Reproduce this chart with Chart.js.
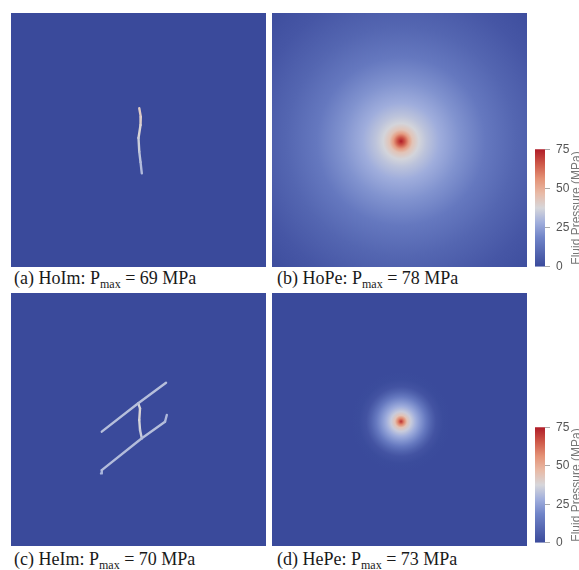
<!DOCTYPE html>
<html>
<head>
<meta charset="utf-8">
<script src="https://cdn.jsdelivr.net/npm/chart.js@4.4.1/dist/chart.umd.min.js"></script>
<style>
  body { margin: 0; width: 579px; height: 570px; background: #fff; overflow: hidden; position: relative; }
  canvas { position: absolute; }
  .cap { position: absolute; font-family: "Liberation Serif", "Times New Roman", serif; font-size: 18px; line-height: 18px; color: #1a1a1a; white-space: nowrap; }
  .cap sub { font-size: 12px; vertical-align: -4px; line-height: 0; }
</style>
</head>
<body>
<canvas id="panelA" width="255" height="254" style="left:11px;top:13px"></canvas>
<canvas id="panelB" width="255" height="254" style="left:272px;top:13px"></canvas>
<canvas id="panelC" width="255" height="253" style="left:11px;top:293px"></canvas>
<canvas id="panelD" width="255" height="253" style="left:272px;top:293px"></canvas>
<canvas id="barTop" width="44" height="144" style="left:535px;top:136px"></canvas>
<canvas id="barBottom" width="44" height="142" style="left:535px;top:414px"></canvas>

<div class="cap" style="left:14px;top:269px">(a) HoIm: P<sub>max</sub> = 69 MPa</div>
<div class="cap" style="left:277px;top:269px">(b) HoPe: P<sub>max</sub> = 78 MPa</div>
<div class="cap" style="left:14px;top:550px">(c) HeIm: P<sub>max</sub> = 70 MPa</div>
<div class="cap" style="left:277px;top:550px">(d) HePe: P<sub>max</sub> = 73 MPa</div>

<script>
// colour scale (MPa)
const barTicks = [0, 25, 50, 75];
const pMin = 0, pMax = 75;
const cmapStops = [0, 0.25, 0.375, 0.5, 0.625, 0.75, 0.875, 1];
const cmapColors = [[58,74,155],[112,132,200],[160,174,220],[214,214,218],[232,186,166],[228,146,118],[206,88,72],[175,28,40]];

// (a) HoIm - single fracture, x/y in domain units (0-100), pressure in MPa
const fracAX = [50.3, 50.9, 50.8, 50.0, 50.3, 50.8, 51.3];
const fracAY = [62.5, 59.1, 55.9, 50.8, 45.4, 41.3, 36.9];
const fracAP = [42, 41, 40, 37, 34, 32, 30];

// (b) HoPe - radial pressure around the well
const wellB = [50.6, 49.5];
const radiusB = [0, 1.5, 3, 4.5, 7, 10, 15, 23, 33, 45, 59, 72];
const pressureB = [76, 66, 54, 44, 37, 33, 28, 22, 15, 9, 4, 1];

// (c) HeIm - two parallel fractures and a connector
const fracC1X = [35.6, 49.9, 60.8];
const fracC1Y = [45.2, 56.4, 64.5];
const fracC1P = [31, 33, 31];
const fracC2X = [35.3, 35.6, 51.3, 60.4, 61.1];
const fracC2Y = [28.7, 30.0, 42.6, 49.1, 51.8];
const fracC2P = [29, 30, 33, 31, 30];
const fracC3X = [49.9, 50.6, 50.3, 50.6, 51.3];
const fracC3Y = [56.4, 54.4, 49.8, 45.8, 42.6];
const fracC3P = [35, 39, 38, 36, 34];

// (d) HePe - radial pressure around the well
const wellD = [50.6, 49.2];
const radiusD = [0, 1.2, 2.4, 3.9, 5.9, 7.8, 9.8, 11.8, 13.7, 16.5, 19.6];
const pressureD = [72, 58, 44, 35, 28, 22, 15, 8, 3, 0.5, 0];

function pressureColor(p, alpha) {
    let t = (p - pMin) / (pMax - pMin);
    t = Math.max(0, Math.min(1, t));
    let i = 0;
    while (i < cmapStops.length - 2 && t > cmapStops[i + 1]) i++;
    const f = (t - cmapStops[i]) / (cmapStops[i + 1] - cmapStops[i]);
    const c = cmapColors[i].map((v, k) => Math.round(v + (cmapColors[i + 1][k] - v) * f));
    return `rgba(${c[0]},${c[1]},${c[2]},${alpha === undefined ? 1 : alpha})`;
}

const fieldPlugin = {
    id: 'field',
    beforeDatasetsDraw(chart, args, opts) {
        const { ctx, chartArea: a, scales } = chart;
        ctx.save();
        ctx.fillStyle = pressureColor(0);
        ctx.fillRect(a.left, a.top, a.width, a.height);
        if (opts.radius) {
            const cx = scales.x.getPixelForValue(opts.center[0]);
            const cy = scales.y.getPixelForValue(opts.center[1]);
            const rMax = opts.radius[opts.radius.length - 1];
            const rPx = scales.x.getPixelForValue(rMax) - scales.x.getPixelForValue(0);
            const g = ctx.createRadialGradient(cx, cy, 0, cx, cy, rPx);
            opts.radius.forEach((r, i) => g.addColorStop(r / rMax, pressureColor(opts.pressure[i])));
            ctx.fillStyle = g;
            ctx.fillRect(a.left, a.top, a.width, a.height);
        }
        ctx.restore();
    }
};

function fracture(xs, ys, ps) {
    return {
        data: xs.map((x, i) => ({ x: x, y: ys[i] })),
        showLine: true,
        pointRadius: 0,
        borderWidth: 2.4,
        borderCapStyle: 'round',
        borderJoinStyle: 'round',
        borderColor: pressureColor(ps[0]),
        segment: {
            borderColor: c => pressureColor((ps[c.p0DataIndex] + ps[c.p1DataIndex]) / 2)
        }
    };
}

function makePanel(id, datasets, field) {
    return new Chart(document.getElementById(id), {
        type: 'scatter',
        data: { datasets: datasets },
        options: {
            responsive: false,
            animation: false,
            layout: { padding: 0 },
            plugins: { legend: { display: false }, tooltip: { enabled: false }, field: field || {} },
            scales: {
                x: { type: 'linear', min: 0, max: 100, display: false },
                y: { type: 'linear', min: 0, max: 100, display: false }
            }
        },
        plugins: [fieldPlugin]
    });
}

makePanel('panelA', [fracture(fracAX, fracAY, fracAP)]);
makePanel('panelB', [], { center: wellB, radius: radiusB, pressure: pressureB });
makePanel('panelC', [
    fracture(fracC1X, fracC1Y, fracC1P),
    fracture(fracC2X, fracC2Y, fracC2P),
    fracture(fracC3X, fracC3Y, fracC3P)
]);
makePanel('panelD', [], { center: wellD, radius: radiusD, pressure: pressureD });

const barTitle = {
    id: 'barTitle',
    afterDraw(chart) {
        const { ctx, chartArea: a } = chart;
        ctx.save();
        ctx.translate(a.right + 32, (a.top + a.bottom) / 2);
        ctx.rotate(-Math.PI / 2);
        ctx.font = '12px "Liberation Sans", Arial, sans-serif';
        ctx.fillStyle = '#777';
        ctx.textAlign = 'center';
        ctx.textBaseline = 'middle';
        ctx.fillText('Fluid Pressure (MPa)', 0, 0);
        ctx.restore();
    }
};

function makeColorBar(id) {
    return new Chart(document.getElementById(id), {
        type: 'bar',
        data: {
            labels: [''],
            datasets: [{
                data: [[pMin, pMax]],
                barPercentage: 1,
                categoryPercentage: 1,
                borderWidth: 0,
                backgroundColor: c => {
                    const a = c.chart.chartArea;
                    if (!a) return pressureColor(0);
                    const g = c.chart.ctx.createLinearGradient(0, a.bottom, 0, a.top);
                    cmapStops.forEach((s, i) => g.addColorStop(s, pressureColor(pMin + s * (pMax - pMin))));
                    return g;
                }
            }]
        },
        options: {
            responsive: false,
            animation: false,
            layout: { padding: 0 },
            plugins: { legend: { display: false }, tooltip: { enabled: false } },
            scales: {
                x: { display: false },
                y: {
                    position: 'right',
                    min: pMin,
                    max: pMax,
                    afterBuildTicks: s => { s.ticks = barTicks.map(v => ({ value: v })); },
                    afterFit: s => { s.width = 34; },
                    ticks: { color: '#555', padding: 6, font: { size: 12, family: '"Liberation Sans", Arial, sans-serif' } },
                    grid: { drawOnChartArea: false, tickLength: 5, color: '#aaa' },
                    border: { display: false }
                }
            }
        },
        plugins: [barTitle]
    });
}

makeColorBar('barTop');
makeColorBar('barBottom');
</script>
</body>
</html>
